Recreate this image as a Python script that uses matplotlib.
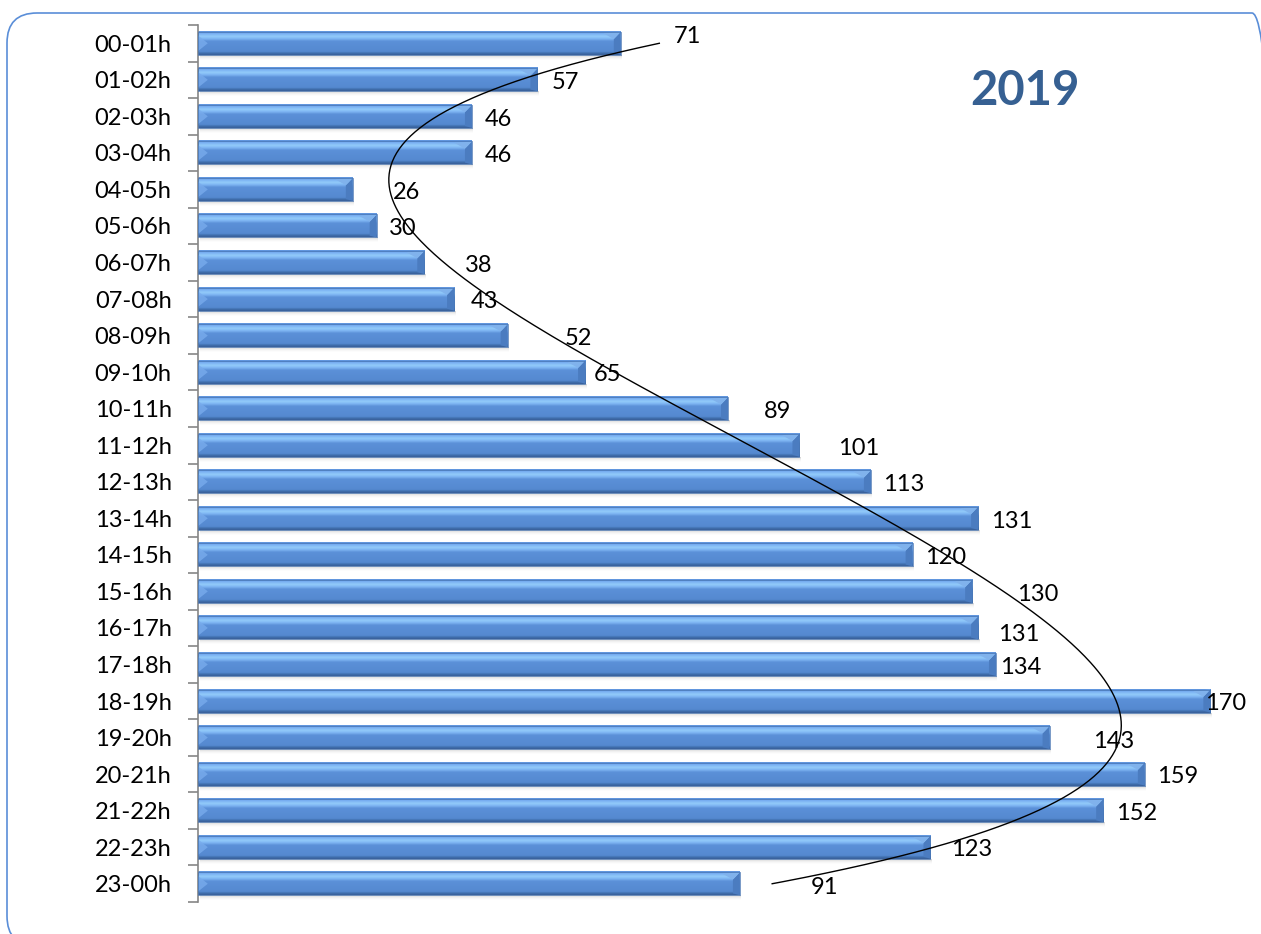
import numpy as np
import matplotlib.pyplot as plt
from matplotlib.patches import FancyBboxPatch, Polygon, Rectangle
from matplotlib.colors import LinearSegmentedColormap
from matplotlib.transforms import IdentityTransform

plt.rcParams['font.family'] = ['Lato', 'DejaVu Sans']

hours = ['00-01h', '01-02h', '02-03h', '03-04h', '04-05h', '05-06h', '06-07h', '07-08h',
         '08-09h', '09-10h', '10-11h', '11-12h', '12-13h', '13-14h', '14-15h', '15-16h',
         '16-17h', '17-18h', '18-19h', '19-20h', '20-21h', '21-22h', '22-23h', '23-00h']
counts = [71, 57, 46, 46, 26, 30, 38, 43, 52, 65, 89, 101, 113, 131, 120, 130,
          131, 134, 170, 143, 159, 152, 123, 91]
year = '2019'

# label nudges (points) - the labels were moved by hand off the trendline
lab_dx = [38, 10, 9, 9, 29, 9, 29, 12, 41, 6, 26, 28, 9, 9, 9, 32, 14, 3, -4, 31, 9, 9, 15, 51]
lab_dy = [5, -2, -2, -2, -2, -2, -2, -2, -2, -2, -2, -2, -2, -2, -2, -2, -5, -2, -2, -3, -2, -2, -2, -3]

W, H = 1261, 934
fig = plt.figure(figsize=(W / 100, H / 100), dpi=100)

# rounded chart border (pixel coords), runs off the right and bottom edges
frame = FancyBboxPatch((7, -12), 1275, H - 13 + 12,
                       boxstyle='round,pad=0,rounding_size=30',
                       transform=IdentityTransform(), fc='none', ec='#5a8ed8', lw=1.2)
fig.patches.append(frame)

ax = fig.add_axes([198 / W, 1 - 902 / H, 1060 / W, 877 / H])
ax.set_xlim(0, 178)
ax.set_ylim(len(hours) - 0.5, -0.5)

h = 0.63
px = 178 / 1060.0    # data units per pixel, x
py = 24 / 877.0      # data units per pixel, y
grad = np.linspace(0, 1, 80).reshape(-1, 1)
cmap = LinearSegmentedColormap.from_list('bevel', [
    (0.0, '#5d92da'), (0.08, '#74aaf0'), (0.22, '#93cbfa'), (0.32, '#7db4f2'),
    (0.42, '#5b90d8'), (0.86, '#5589d0'), (0.92, '#4171b0'), (1.0, '#395f99')])

for i, v in enumerate(counts):
    top, bot = i - h / 2, i + h / 2
    # soft shadow under the bar
    for k, a in enumerate([0.28, 0.18, 0.10, 0.05, 0.02]):
        ax.add_patch(Rectangle((1.5 * px, bot + k * py), v, py,
                               fc='#707070', ec='none', alpha=a, zorder=1))
    ax.imshow(grad, cmap=cmap, extent=[0, v, bot, top], aspect='auto',
              interpolation='bilinear', zorder=2)
    w = 7 * px
    # right end face
    ax.add_patch(Polygon([(v - w, top + 0.2), (v, top), (v, bot), (v - w, bot - 0.05)],
                         closed=True, fc='#4b7cc0', ec='none', zorder=3))
    ax.add_patch(Polygon([(v - w, top + 0.2), (v, top), (v - 2.5 * w, top + 0.04)],
                         closed=True, fc='#80b2ec', ec='none', zorder=3))
    # left end bevel
    ax.add_patch(Polygon([(0, top + 0.1), (w * 1.4, i), (0, bot - 0.1)],
                         closed=True, fc='#78abec', ec='none', alpha=0.8, zorder=3))
    ax.add_patch(Rectangle((0, top), v, h, fc='none', ec='#4472b0', lw=0.5, zorder=4))
    ax.annotate(str(v), (v, i), xytext=(lab_dx[i], lab_dy[i]), textcoords='offset points',
                ha='left', va='center', fontsize=17, color='black', zorder=6)

# polynomial trendline (order 5) over the categories
xi = np.arange(1, len(counts) + 1)
xs = np.linspace(1, len(counts), 400)
p = np.polyfit(xi, counts, 5)
ax.plot(np.polyval(p, xs), xs - 1, color='black', lw=1.0, zorder=5)

ax.set_yticks(range(len(hours)))
ax.set_yticklabels(hours, fontsize=17)
ax.set_yticks(np.arange(-0.5, len(hours)), minor=True)
ax.tick_params(axis='y', which='major', length=0, pad=19)
ax.tick_params(axis='y', which='minor', length=7, width=1.2, color='#868686', direction='out')
ax.set_xticks([])
for s in ['top', 'right', 'bottom']:
    ax.spines[s].set_visible(False)
ax.spines['left'].set_color('#868686')
ax.spines['left'].set_linewidth(1.2)
ax.set_facecolor('none')

fig.text(1025 / W, 1 - 91 / H, year, ha='center', va='center', fontsize=34,
         fontweight='bold', color='#366092')

fig.savefig('out.png', dpi=100)
